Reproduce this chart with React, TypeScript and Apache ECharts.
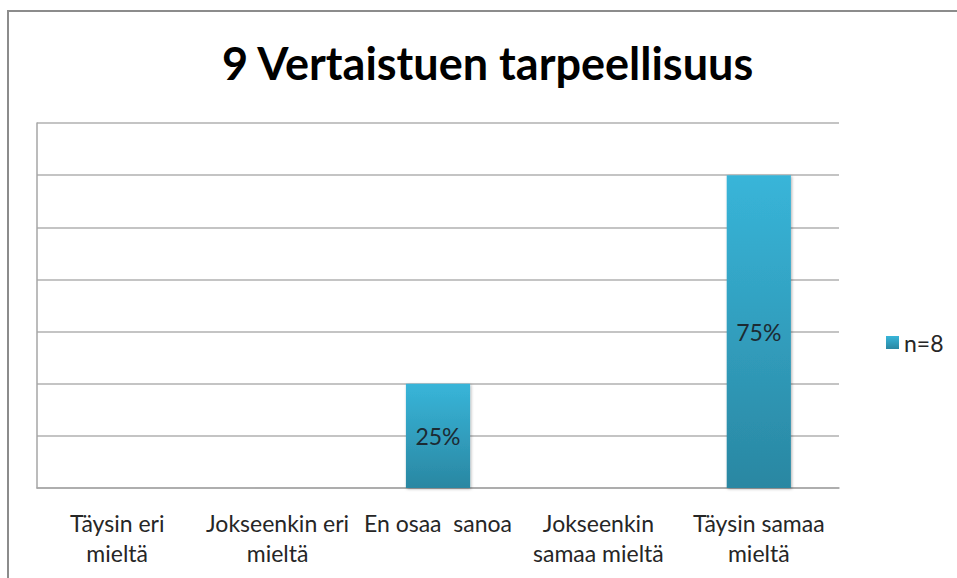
import React, { useEffect, useRef } from "react";
import * as echarts from "echarts";

const titleText = "9 Vertaistuen tarpeellisuus";
const categories = [
  "Täysin eri\nmieltä",
  "Jokseenkin eri\nmieltä",
  "En osaa  sanoa",
  "Jokseenkin\nsamaa mieltä",
  "Täysin samaa\nmieltä",
];
const seriesName = "n=8";
const values = [0, 0, 25, 0, 75];
const yMin = 0;
const yMax = 87.5;
const yInterval = 12.5;

const FONT = "Lato, 'Open Sans', sans-serif";

export default function App() {
  const ref = useRef<HTMLDivElement>(null);
  useEffect(() => {
    document.body.style.margin = "0";
    if (!ref.current) return;
    const chart = echarts.init(ref.current, null, { renderer: "svg" });
    const barColor = new echarts.graphic.LinearGradient(0, 0, 0, 1, [
      { offset: 0, color: "#38b5d9" },
      { offset: 1, color: "#2a87a2" },
    ]);
    chart.setOption({
      animation: false,
      backgroundColor: "#ffffff",
      graphic: [
        {
          type: "rect",
          shape: { x: 8, y: 11, width: 2000, height: 2000 },
          style: { fill: "none", stroke: "#8c8c8c", lineWidth: 2 },
          silent: true,
        },
      ],
      title: {
        text: titleText,
        left: 222,
        top: 40,
        padding: 0,
        textStyle: {
          fontFamily: FONT,
          fontWeight: "bold",
          fontSize: 45,
          color: "#000000",
        },
      },
      legend: {
        data: [seriesName],
        orient: "vertical",
        left: 881,
        top: 326,
        itemWidth: 13,
        itemHeight: 13,
        icon: "rect",
        itemGap: 6,
        textStyle: { fontFamily: FONT, fontSize: 23, color: "#262626" },
      },
      grid: { left: 37, right: 118, top: 123, bottom: 90 },
      xAxis: {
        type: "category",
        data: categories,
        axisLine: { show: true, lineStyle: { color: "#a6a6a6", width: 1.5 } },
        axisTick: { show: false },
        axisLabel: {
          interval: 0,
          margin: 20,
          fontFamily: FONT,
          fontSize: 23,
          lineHeight: 30,
          color: "#262626",
        },
      },
      yAxis: {
        type: "value",
        min: yMin,
        max: yMax,
        interval: yInterval,
        axisLine: { show: true, lineStyle: { color: "#a6a6a6", width: 1.5 } },
        axisTick: { show: false },
        axisLabel: { show: false },
        splitLine: { show: true, lineStyle: { color: "#b0b0b0", width: 1.7 } },
      },
      series: [
        {
          name: seriesName,
          type: "bar",
          data: values.map((v) => (v === 0 ? null : v)),
          barWidth: "40%",
          itemStyle: {
            color: barColor,
            shadowBlur: 3,
            shadowColor: "rgba(0,0,0,0.3)",
            shadowOffsetX: 1,
            shadowOffsetY: 1,
          },
          label: {
            show: true,
            position: "inside",
            formatter: (p: any) => `${p.value}%`,
            fontFamily: FONT,
            fontSize: 23,
            color: "#1c2b33",
          },
        },
      ],
    });
    return () => chart.dispose();
  }, []);
  return <div ref={ref} style={{ width: 957, height: 578 }} />;
}
